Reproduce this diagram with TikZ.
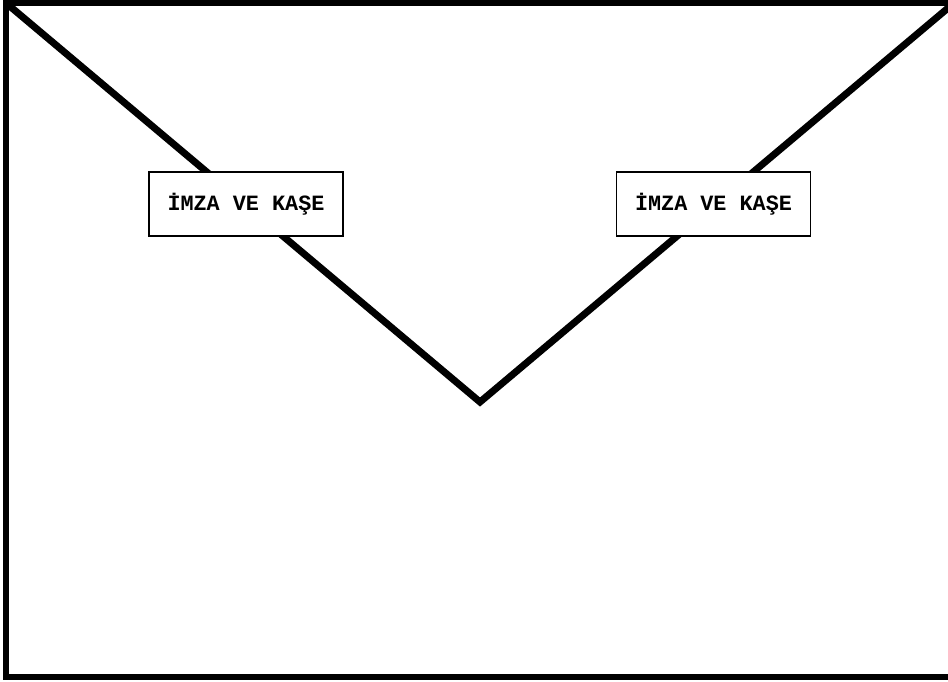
\documentclass[tikz,border=0pt]{standalone}
\usepackage{fontspec}
\setmonofont{Liberation Mono}
\tikzset{
    stamp/.style={draw,fill=white,line width=1.5pt,minimum width=194pt,minimum height=64pt,
                  inner sep=0pt,font=\ttfamily\bfseries\fontsize{21.8}{24}\selectfont},
    flap/.style={line width=7pt,line join=miter}
}
\begin{document}
\begin{tikzpicture}[x=1pt,y=-1pt]
    \useasboundingbox (0,0) rectangle (948,682);
    \clip (0,0) rectangle (948,682);
    \coordinate (TL) at (6,3);
    \coordinate (BR) at (954,677);
    \coordinate (tip) at (480,402);
    \draw[line width=6pt] (TL) rectangle (BR); % envelope outline
    \draw[flap] (TL) -- (tip) -- (TL-|BR); % envelope flap
    \node[stamp] (leftstamp) at (246,204) {İMZA VE KAŞE};
    \node[stamp] (rightstamp) at (713.5,204) {İMZA VE KAŞE};
\end{tikzpicture}
\end{document}
